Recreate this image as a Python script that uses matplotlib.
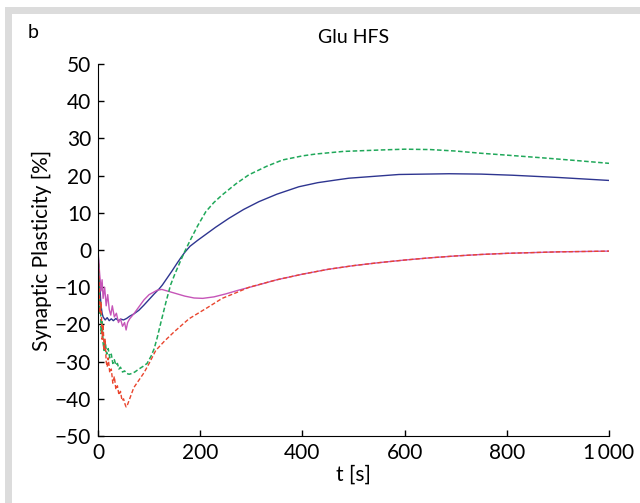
import matplotlib
matplotlib.use('Agg')
import matplotlib.pyplot as plt
from matplotlib.patches import Rectangle

plt.rcParams['font.family'] = ['Lato', 'DejaVu Sans']

# values (t in s, plasticity in %)
t_blue = [0, 2, 4, 6, 8, 10, 14, 18, 22, 26, 30, 35, 40, 45, 50, 56, 62, 70, 80, 90,
          100, 110, 120, 126, 135, 145, 155, 163, 170, 180, 195, 211, 230, 256, 285,
          315, 350, 393, 430, 470, 491, 550, 589, 687, 750, 811, 900, 950, 1000]
v_blue = [0, -6, -11, -15, -17, -18, -18.8, -18.2, -19, -18.5, -19, -18.4, -19, -18.6,
          -18.8, -18.4, -17.8, -17.2, -16.2, -14.8, -13.3, -11.8, -10.4, -9.4, -7.6,
          -5.6, -3.5, -1.9, -0.6, 1.0, 2.6, 4.2, 6.1, 8.5, 10.9, 13.0, 15.0, 17.0, 18.1,
          18.9, 19.3, 19.9, 20.3, 20.5, 20.4, 20.1, 19.5, 19.1, 18.7]

t_green = [0, 2, 3, 5, 6, 8, 10, 12, 14, 17, 20, 23, 26, 29, 32, 35, 38, 41, 44, 48, 52,
           56, 61, 66, 72, 80, 88, 96, 104, 110, 116, 123, 133, 142, 150, 160, 168, 180,
           195, 211, 227, 243, 270, 295, 330, 361, 400, 426, 480, 556, 600, 650, 700,
           750, 800, 877, 940, 1000]
v_green = [0, -10, -17, -14, -22.5, -19, -25, -27, -24.5, -28, -26.5, -29, -28, -30.5,
           -29.5, -31, -30.5, -32, -31.5, -32.8, -32.5, -33.2, -33.4, -33.2, -32.8, -32,
           -31.3, -30.5, -28.5, -26.5, -23.5, -19.5, -14, -9.4, -6.6, -3.4, -0.9, 2.5,
           6.5, 10.3, 12.8, 14.8, 17.8, 20.2, 22.5, 24.2, 25.3, 25.8, 26.5, 26.9, 27.1,
           27.0, 26.6, 26.0, 25.5, 24.7, 24.0, 23.3]

t_red = [0, 2, 4, 6, 8, 10, 12, 14, 16, 18, 20, 23, 26, 29, 32, 35, 38, 41, 44, 47, 50,
         53, 55, 58, 62, 70, 80, 90, 100, 113, 130, 149, 178, 214, 243, 270, 296, 350,
         400, 450, 500, 550, 600, 650, 700, 750, 800, 850, 900, 950, 1000]
v_red = [0, -8, -17, -14, -24, -20, -27, -24, -30, -31.4, -29, -33, -32, -35.8, -34,
         -37.5, -36.5, -39, -38, -40.5, -40, -41.5, -42.2, -41.5, -40, -37, -35, -33,
         -30.5, -27, -24.5, -22, -18.5, -15.5, -13, -11.5, -10, -8, -6.5, -5.2, -4.2,
         -3.4, -2.7, -2.1, -1.6, -1.2, -0.9, -0.7, -0.5, -0.4, -0.3]

t_mag = [0, 3, 6, 8, 10, 13, 16, 19, 22, 25, 28, 32, 36, 40, 44, 48, 52, 55, 58, 62, 71,
         80, 90, 100, 116, 125, 135, 150, 170, 188, 205, 227, 250, 275, 300, 350, 400,
         450, 500, 550, 600, 650, 700, 750, 800, 850, 900, 950, 1000]
v_mag = [0, -6, -11, -8, -13, -10, -15, -12, -16, -17.5, -15, -18, -17, -19.5, -18.5,
         -20.5, -19.5, -21.5, -19.5, -18.5, -17, -15.3, -13.4, -12, -10.8, -10.6, -11,
         -11.6, -12.4, -12.9, -13, -12.6, -11.8, -10.8, -9.9, -8, -6.5, -5.2, -4.2, -3.4,
         -2.7, -2.1, -1.6, -1.2, -0.9, -0.7, -0.5, -0.4, -0.3]

fig = plt.figure(figsize=(6.4, 5.03), dpi=100)
# grey frame around the panel
fig.patches.append(Rectangle((5/640, 0), 1, 1 - 7/503, transform=fig.transFigure,
                             facecolor='#dcdcdc', edgecolor='none', zorder=-2))
fig.patches.append(Rectangle((12/640, 0), 1, 1 - 14/503, transform=fig.transFigure,
                             facecolor='white', edgecolor='none', zorder=-1))

ax = fig.add_axes([98/640, 1 - 436/503, 511/640, 372/503])
ax.patch.set_alpha(0)

ax.plot(t_blue, v_blue, color='#2e3590', lw=1.0)
ax.plot(t_mag, v_mag, color='#c655b8', lw=1.0)
ax.plot(t_green, v_green, color='#20a85a', lw=1.1, ls=(0, (3, 1.6)))
ax.plot(t_red, v_red, color='#e9452e', lw=1.0, ls=(0, (3, 1.6)))

ax.set_xlim(0, 1000)
ax.set_ylim(-50, 50)
ax.set_xticks(range(0, 1001, 200))
ax.set_xticklabels(['0', '200', '400', '600', '800', '1\u2009000'])
ax.set_yticks(range(-50, 51, 10))
ax.set_yticklabels([str(v).replace('-', '\u2212') for v in range(-50, 51, 10)])
ax.tick_params(direction='in', length=4, width=1, labelsize=15, pad=5)

for s in ['top', 'right']:
    ax.spines[s].set_visible(False)

ax.set_xlabel('t [s]', fontsize=15, labelpad=1)
ax.set_ylabel('Synaptic Plasticity [%]', fontsize=15, labelpad=2)
ax.set_title('Glu HFS', fontsize=14, pad=15)
fig.text(28/640, 1 - 32/503, 'b', fontsize=14, va='center')

plt.savefig('out.png', dpi=100)
